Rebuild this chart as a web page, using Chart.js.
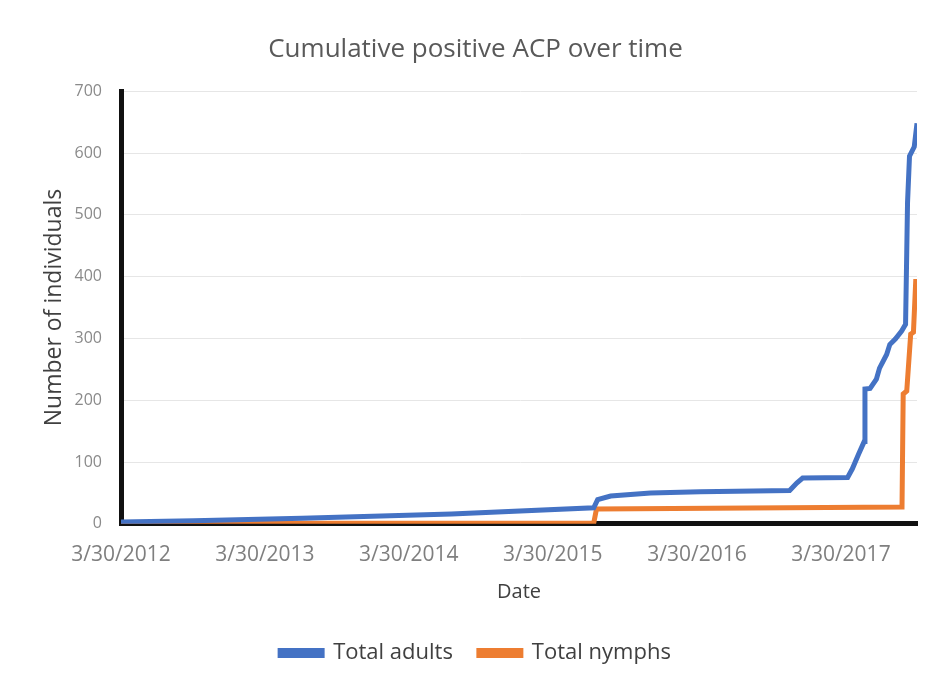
<!DOCTYPE html>
<html>
<head>
<meta charset="utf-8">
<script src="https://cdn.jsdelivr.net/npm/chart.js@4.4.1/dist/chart.umd.min.js"></script>
<style>
html,body{margin:0;padding:0;background:#fff;}
#wrap{position:relative;width:930px;height:681px;}
</style>
</head>
<body>
<div id="wrap"><canvas id="c" width="930" height="681"></canvas></div>
<script>
const chartTitle = "Cumulative positive ACP over time";
const xTitle = "Date";
const yTitle = "Number of individuals";
const xTickDates = ["2012-03-30","2013-03-30","2014-03-30","2015-03-30","2016-03-30","2017-03-30"];
const yTicks = [0,100,200,300,400,500,600,700];

const adultDates = ["2012-03-30","2012-10-01","2013-07-02","2014-07-16","2015-07-12","2015-07-22","2015-08-24","2015-12-03","2016-04-07","2016-11-20","2016-12-08","2016-12-23","2017-04-16","2017-04-28","2017-05-14","2017-05-28","2017-05-30","2017-06-12","2017-06-28","2017-07-06","2017-07-24","2017-08-01","2017-08-15","2017-08-31","2017-09-10","2017-09-13","2017-09-15","2017-09-20","2017-10-02","2017-10-09"];
const adultValues = [3,5,9,16,26,39,45,50,52,54,66,74,75,89,113,133,218,219,234,252,274,290,299,312,323,440,520,595,610,648];

const nymphDates = ["2012-03-30","2015-07-12","2015-07-19","2017-09-01","2017-09-04","2017-09-13","2017-09-23","2017-09-30","2017-10-06"];
const nymphValues = [1,1,24,27,210,215,307,310,396];

const toMs = s => Date.parse(s + "T00:00:00Z");
const fmtDate = ms => { const d = new Date(ms); return (d.getUTCMonth()+1) + "/" + d.getUTCDate() + "/" + d.getUTCFullYear(); };

const adultPts = adultDates.map((d,i)=>({x:toMs(d), y:adultValues[i]}));
const nymphPts = nymphDates.map((d,i)=>({x:toMs(d), y:nymphValues[i]}));

const FONT = "'Open Sans', 'Liberation Sans', sans-serif";

new Chart(document.getElementById('c'), {
  type: 'line',
  data: {
    datasets: [
      {label:'Total adults', data: adultPts, borderColor:'#4472C4', backgroundColor:'#4472C4', borderWidth:5, pointRadius:0, tension:0, fill:false},
      {label:'Total nymphs', data: nymphPts, borderColor:'#ED7D31', backgroundColor:'#ED7D31', borderWidth:5, pointRadius:0, tension:0, fill:false}
    ]
  },
  options: {
    responsive:false,
    animation:false,
    devicePixelRatio:1,
    layout:{padding:{left:34,right:13,top:0,bottom:7}},
    plugins:{
      title:{display:true,text:chartTitle,color:'#595959',font:{family:FONT,size:26,weight:'normal'},padding:{top:34,bottom:26}},
      legend:{position:'bottom',labels:{color:'#404040',font:{family:FONT,size:22},boxWidth:42,boxHeight:5,padding:26}},
      tooltip:{enabled:false}
    },
    scales:{
      x:{
        type:'linear',
        min: toMs("2012-03-30"),
        max: toMs("2017-10-09"),
        afterBuildTicks: s => { s.ticks = xTickDates.map(d=>({value:toMs(d)})); },
        ticks:{callback: v => fmtDate(v), color:'#7f7f7f', font:{family:FONT,size:21}, maxRotation:0, autoSkip:false, padding:11},
        grid:{display:false},
        border:{display:true,color:'#111',width:5},
        title:{display:true,text:xTitle,color:'#404040',font:{family:FONT,size:20},padding:{top:1,bottom:12}}
      },
      y:{
        min:0,max:700,
        afterBuildTicks: s => { s.ticks = yTicks.map(v=>({value:v})); },
        ticks:{color:'#8a8a8a',font:{family:FONT,size:16},padding:19},
        grid:{color:'#e6e6e6',lineWidth:1,drawTicks:false},
        border:{display:true,color:'#111',width:5},
        title:{display:true,text:yTitle,color:'#404040',font:{family:FONT,size:23},padding:{top:7,bottom:0}},
        afterFit: s => { s.width = 87; }
      }
    }
  }
});
</script>
</body>
</html>
